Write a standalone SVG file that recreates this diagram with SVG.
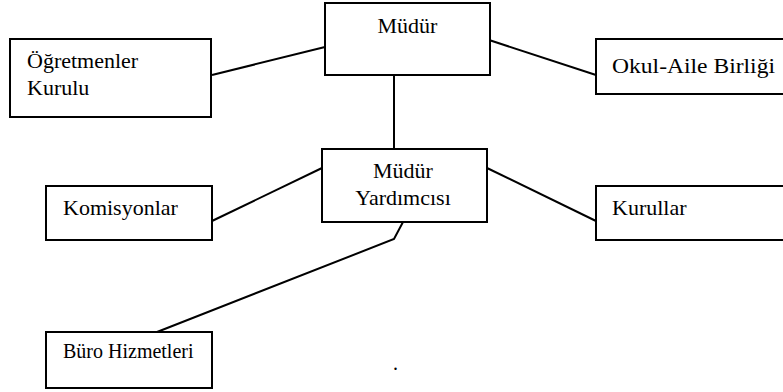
<svg xmlns="http://www.w3.org/2000/svg" width="783" height="392" viewBox="0 0 783 392">
<style>
rect.n{fill:#fff;stroke:#000;stroke-width:2}
text{font-size:22px;fill:#000}
.sm{font-size:20px}
#connectors line,#connectors polyline{stroke:#000;stroke-width:2;fill:none}
</style>
<rect width="783" height="392" fill="#fff"/>
<g id="connectors">
<line x1="212" y1="75" x2="325" y2="47"/>
<line x1="486" y1="39" x2="596" y2="75"/>
<line x1="394" y1="75" x2="394" y2="149"/>
<line x1="212" y1="221" x2="322" y2="168"/>
<line x1="487" y1="168" x2="596" y2="221"/>
<polyline points="403,222 394,239 157,332"/>
</g>
<g font-family="'Liberation Serif', 'DejaVu Serif', serif">
<g id="mudur">
<rect class="n" x="325" y="3" width="165" height="72"/>
<text x="407.5" y="33" text-anchor="middle">Müdür</text>
</g>
<g id="ogretmenler">
<rect class="n" x="10" y="39" width="201" height="78"/>
<text x="27" y="68">Öğretmenler</text>
<text x="27" y="95">Kurulu</text>
</g>
<g id="okul-aile">
<rect class="n" x="596" y="39" width="190" height="55"/>
<text x="612" y="73" textLength="163" lengthAdjust="spacingAndGlyphs">Okul-Aile Birliği</text>
</g>
<g id="mudur-yardimcisi">
<rect class="n" x="322" y="149" width="165" height="73"/>
<text x="403" y="178" text-anchor="middle">Müdür</text>
<text x="403" y="205" text-anchor="middle">Yardımcısı</text>
</g>
<g id="komisyonlar">
<rect class="n" x="46" y="186" width="166" height="54"/>
<text x="63" y="215">Komisyonlar</text>
</g>
<g id="kurullar">
<rect class="n" x="596" y="186" width="190" height="54"/>
<text x="612" y="215">Kurullar</text>
</g>
<g id="buro">
<rect class="n" x="46" y="332" width="166" height="56"/>
<text class="sm" x="63" y="358">Büro Hizmetleri</text>
</g>
<text class="sm" x="393" y="370">.</text>
</g>
</svg>
